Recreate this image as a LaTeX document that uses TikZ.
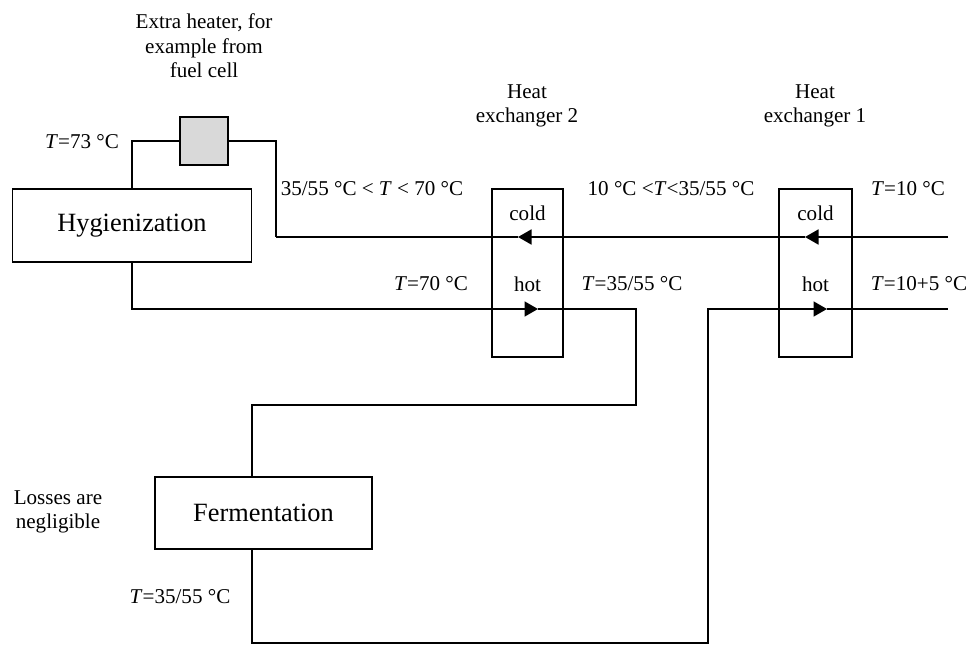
\documentclass[tikz,border=0pt]{standalone}
\usepackage{fontspec}
\setmainfont{Liberation Serif}
\usetikzlibrary{arrows.meta}

\tikzset{
  pipe/.style={line width=1pt},
  flow/.style={line width=1pt,-{Triangle[length=0.27cm,width=0.3cm]}},
  unit/.style={draw,line width=1pt,inner sep=0pt,font=\fontsize{15}{18}\selectfont},
  lbl/.style={inner sep=0pt,align=center,font=\fontsize{12}{14}\selectfont},
}
\newcommand{\tT}{\textit{T}}

\begin{document}
\begin{tikzpicture}[x=0.02cm,y=-0.02cm]
\useasboundingbox (0,0) rectangle (973,645);
% units
\node[unit,minimum width=4.78cm,minimum height=1.46cm] (hyg) at (132,225.5) {Hygienization};
\node[unit,fill=black!15,minimum size=0.96cm] (heater) at (204,141) {};
\node[unit,minimum width=1.42cm,minimum height=3.36cm] (hx2) at (527.5,273) {};
\node[unit,minimum width=1.46cm,minimum height=3.36cm] (hx1) at (815.5,273) {};
\node[unit,minimum width=4.34cm,minimum height=1.44cm] (ferm) at (263.5,513) {Fermentation};
% corners of the pipes
\coordinate (cin) at (948,237); \coordinate (c1) at (805,237); \coordinate (c2) at (518,237);
\coordinate (cend) at (276,237);
\coordinate (h2) at (538,309); \coordinate (hdown) at (636,405); \coordinate (fin) at (252,405);
\coordinate (fout) at (252,643); \coordinate (rise) at (708,643);
\coordinate (h1) at (827,309); \coordinate (hout) at (948,309);
% cold side
\draw[pipe] (hyg.north) |- (heater.west);
\draw[pipe] (heater.east) -| (cend);
\draw[flow] (cin) -- (c1);
\draw[flow] (c1) -- (c2);
\draw[pipe] (c2) -- (cend);
% hot side
\draw[flow] (hyg.south) |- (h2);
\draw[pipe] (h2) -| (hdown) -- (fin) -- (fin |- ferm.north);
\draw[flow] (fin |- ferm.south) -- (fout) -- (rise) |- (h1);
\draw[pipe] (h1) -- (hout);
% labels
\node[lbl] (heatlbl) at (204,46) {Extra heater, for\\example from\\fuel cell};
\node[lbl] (hx2lbl) at (527,106) {Heat\\exchanger 2};
\node[lbl] (hx1lbl) at (815,106) {Heat\\exchanger 1};
\node[lbl] (hx2c) at (527.5,213) {cold}; \node[lbl] (hx2h) at (527.5,284) {hot};
\node[lbl] (hx1c) at (815.5,213) {cold}; \node[lbl] (hx1h) at (815.5,284) {hot};
\node[lbl] (t73) at (82,142) {\tT=73 °C};
\node[lbl] (tmix2) at (372,189) {35/55 °C < \tT{} < 70 °C};
\node[lbl] (tmix1) at (671,189) {10 °C <\tT<35/55 °C};
\node[lbl] (t10) at (908,189) {\tT=10 °C};
\node[lbl] (t70) at (431,284) {\tT=70 °C};
\node[lbl] (t35a) at (632,284) {\tT=35/55 °C};
\node[lbl] (t15) at (919,284) {\tT=10+5 °C};
\node[lbl] (loss) at (58,512) {Losses are\\negligible};
\node[lbl] (t35b) at (180,597) {\tT=35/55 °C};
\end{tikzpicture}
\end{document}
